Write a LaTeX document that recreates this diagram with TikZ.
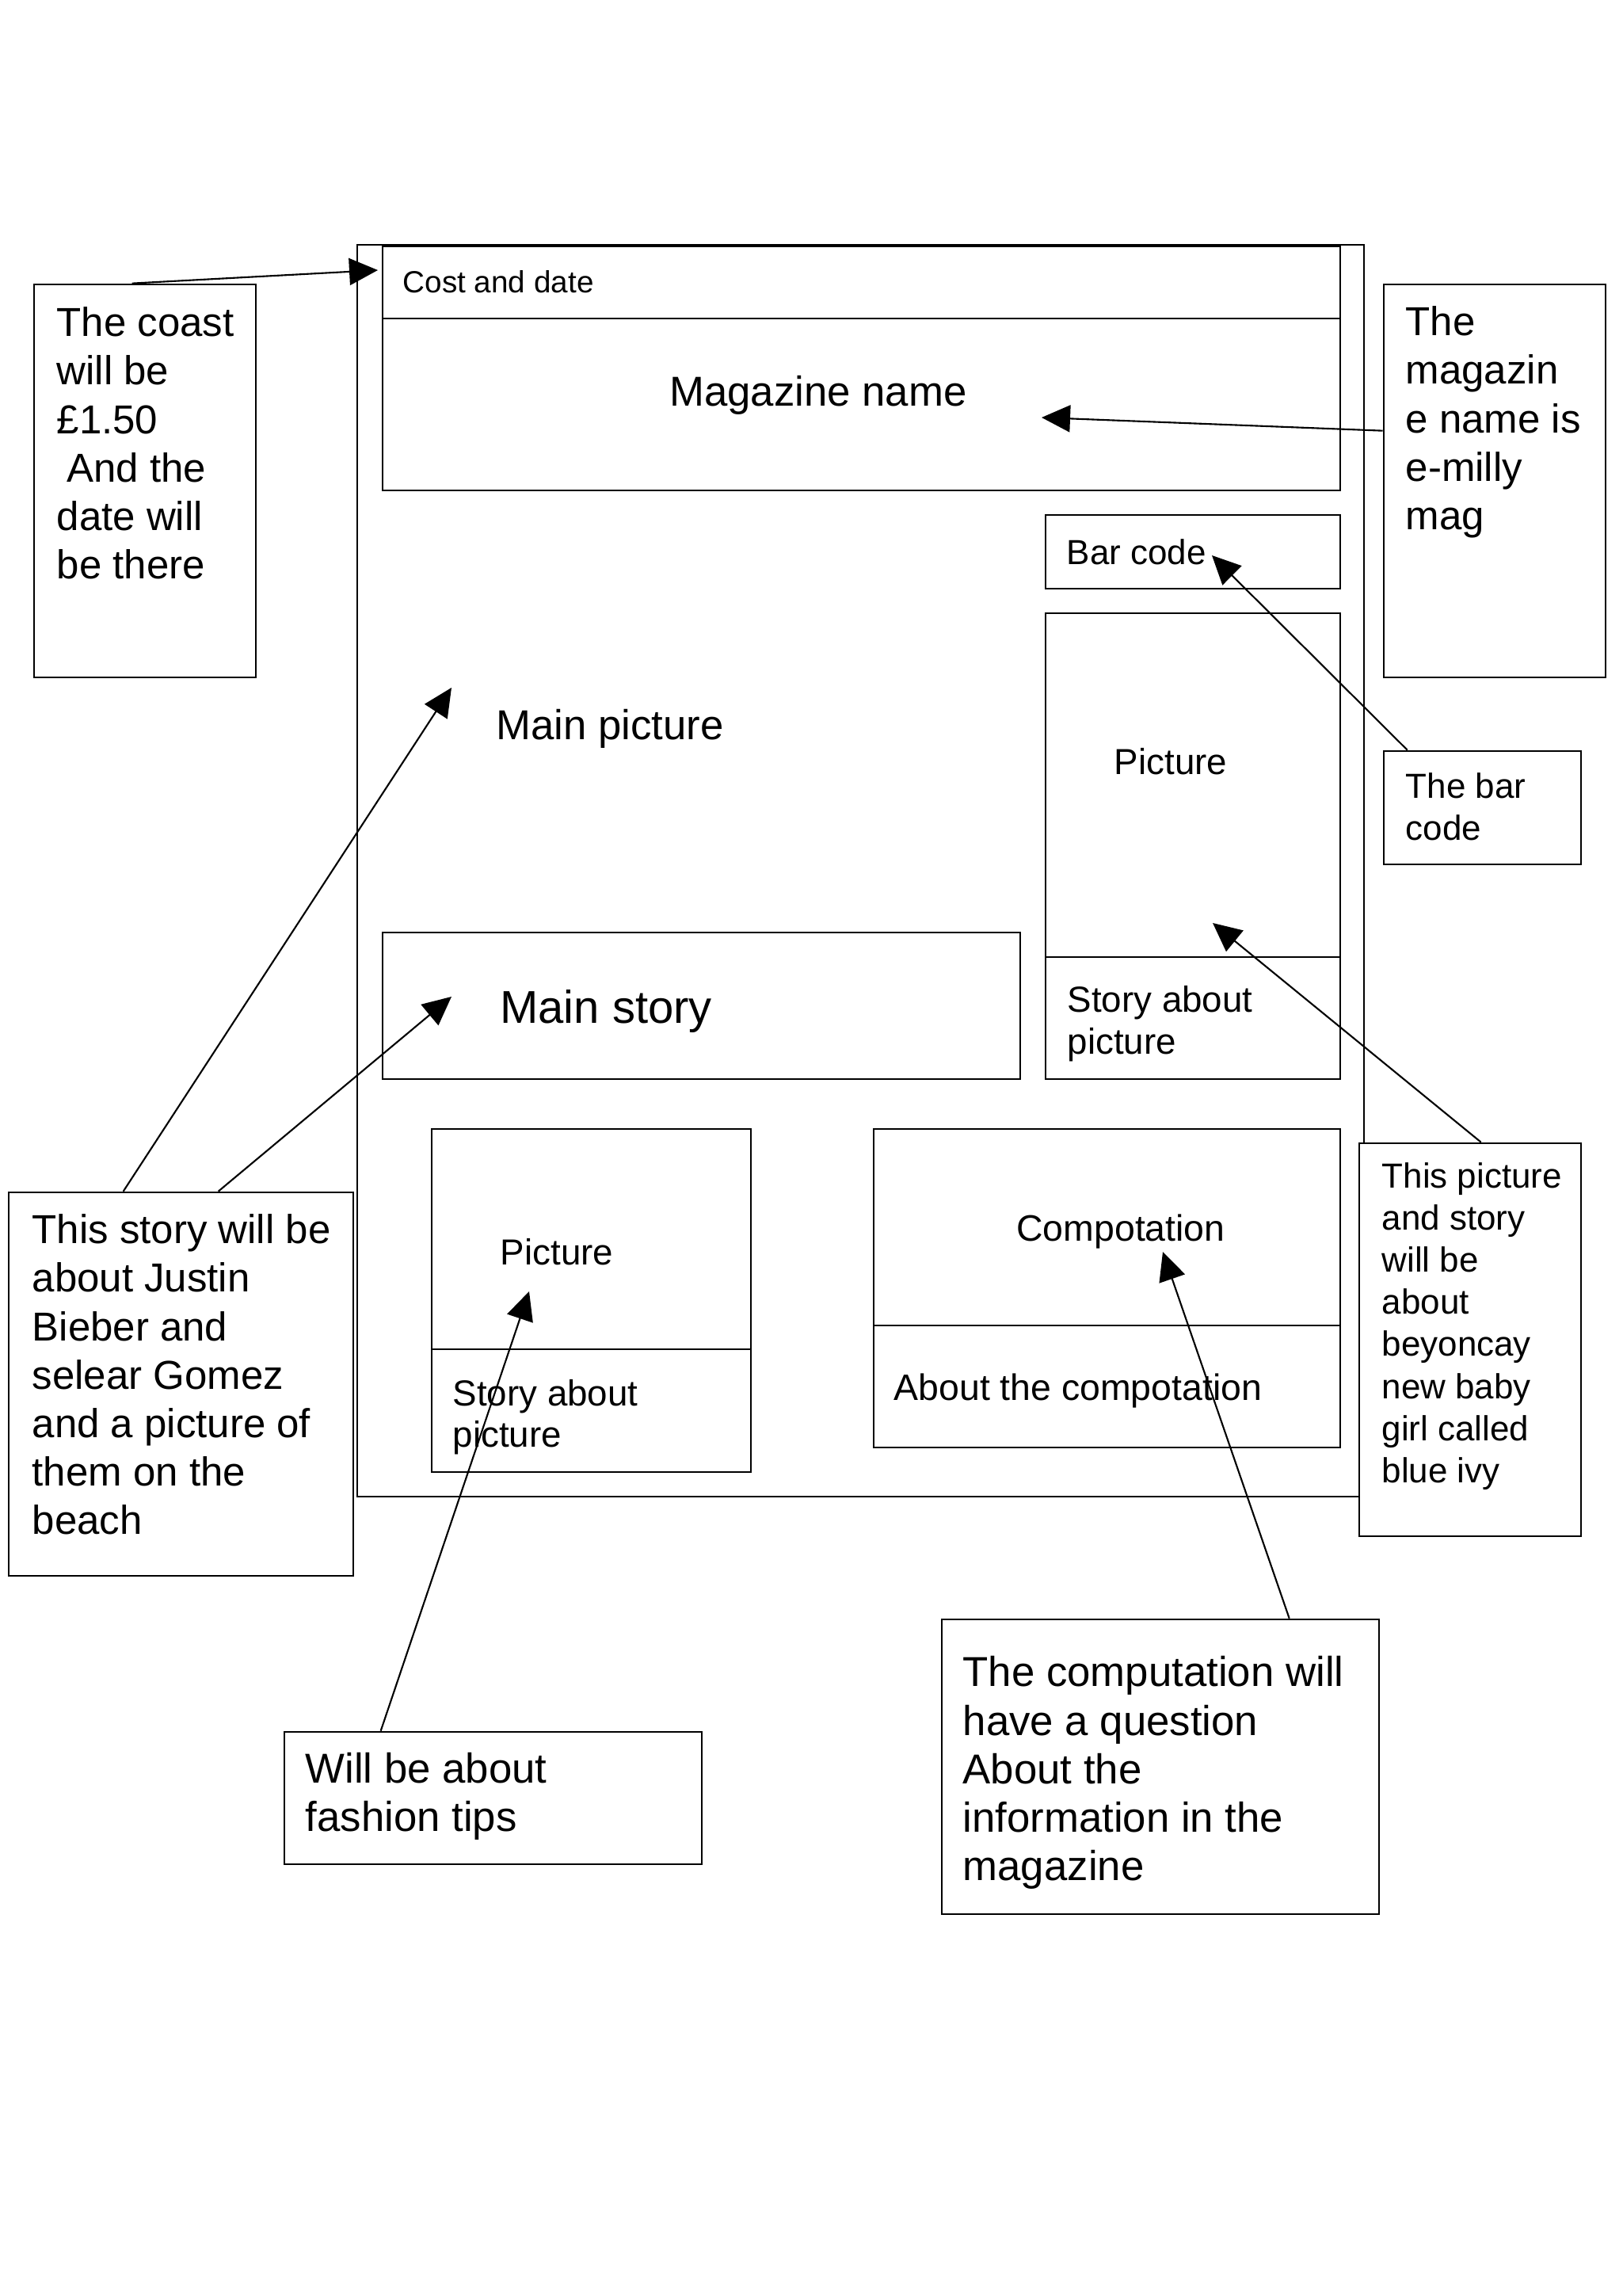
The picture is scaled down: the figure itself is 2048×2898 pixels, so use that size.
\documentclass[tikz,border=0pt]{standalone}
\usepackage{fontspec}
\setmainfont{Liberation Sans}
\usetikzlibrary{arrows.meta, positioning, fit, calc}

\begin{document}
\begin{tikzpicture}[x=0.01cm, y=-0.01cm,
  box/.style={draw, line width=0.75pt, inner sep=0pt, fill=white},
  note/.style={draw, line width=0.75pt, inner sep=0pt, fill=white},
  txt/.style={inner sep=0pt, align=left, anchor=north west},
  lbl/.style={inner sep=0pt, anchor=base},
  arr/.style={-{Triangle[length=3.6mm, width=3.4mm]}, line width=0.6pt},
  big/.style={font=\fontsize{14.5}{17.4}\selectfont},
  mid/.style={font=\fontsize{12.5}{15.1}\selectfont},
  small/.style={font=\fontsize{13}{15}\selectfont},
]
\useasboundingbox (0,0) rectangle (2048,2898);
\fill[white] (0,0) rectangle (2048,2898);

\node[box, fit={(451,309) (1722,1889)}] (frame) {};
\node[box, fit={(483,311) (1692,402)}] (costbox) {};
\node[box, fit={(483,402) (1692,619)}] (namebox) {};
\node[box, fit={(1320,650) (1692,743)}] (barbox) {};
\node[box, fit={(1320,774) (1692,1208)}] (sidepic) {};
\node[box, fit={(1320,1208) (1692,1362)}] (sidestory) {};
\node[box, fit={(483,1177) (1288,1362)}] (mainstory) {};
\node[box, fit={(545,1425) (948,1703)}] (smallpic) {};
\node[box, fit={(545,1703) (948,1858)}] (smallstory) {};
\node[box, fit={(1103,1425) (1692,1673)}] (compbox) {};
\node[box, fit={(1103,1673) (1692,1827)}] (compabout) {};

\node[note, fit={(43,359) (323,855)}] (coastnote) {};
\node[note, fit={(1747,359) (2027,855)}] (magnote) {};
\node[note, fit={(1747,948) (1996,1091)}] (barnote) {};
\node[note, fit={(11,1505) (446,1989)}] (justinnote) {};
\node[note, fit={(1716,1443) (1996,1939)}] (beyoncenote) {};
\node[note, fit={(359,2186) (886,2353)}] (fashionnote) {};
\node[note, fit={(1189,2044) (1741,2416)}] (compnote) {};

\node[lbl, anchor=base west, font=\fontsize{11}{13}\selectfont] (costlbl) at (508,370) {Cost and date};
\node[lbl, font=\fontsize{15}{18}\selectfont] (namelbl) at (1033,513) {Magazine name};
\node[lbl, anchor=base west, mid] (barlbl) at (1346,713) {Bar code};
\node[lbl, small] (sidepiclbl) at (1478,977) {Picture};
\node[txt, font=\fontsize{13}{15.1}\selectfont] (sidestorylbl) at (1347,1244) {Story about\\picture};
\node[lbl, font=\fontsize{15}{18}\selectfont] (mainpiclbl) at (770,933) {Main picture};
\node[lbl, font=\fontsize{16.5}{20}\selectfont] (mainstorylbl) at (765,1291) {Main story};
\node[lbl, small] (smallpiclbl) at (703,1596) {Picture};
\node[txt, font=\fontsize{13}{14.6}\selectfont] (smallstorylbl) at (571,1741) {Story about\\picture};
\node[lbl, font=\fontsize{13.2}{16}\selectfont] (complbl) at (1415,1566) {Compotation};
\node[lbl, anchor=base west, font=\fontsize{13.2}{16}\selectfont] (compaboutlbl) at (1128,1767) {About the compotation};

\node[txt, big] (coasttext) at (71,387) {The coast\\will be\\£1.50\\\hspace*{0.25em}And the\\date will\\be there};
\node[txt, big] (magtext) at (1774,386) {The\\magazin\\e name is\\e-milly\\mag};
\node[txt, mid] (bartext) at (1774,975) {The bar\\code};
\node[txt, big] (justintext) at (40,1532) {This story will be\\about Justin\\Bieber and\\selear Gomez\\and a picture of\\them on the\\beach};
\node[txt, mid] (beyoncetext) at (1744,1467) {This picture\\and story\\will be\\about\\beyoncay\\new baby\\girl called\\blue ivy};
\node[txt, font=\fontsize{15}{17.1}\selectfont] (fashiontext) at (385,2212) {Will be about\\fashion tips};
\node[txt, font=\fontsize{15}{17.4}\selectfont] (comptext) at (1215,2090) {The computation will\\have a question\\About the\\information in the\\magazine};

\coordinate (costtip) at (477,341);
\coordinate (nametip) at (1315,527);
\coordinate (bartip) at (1530,701);
\coordinate (mainpictip) at (570,868);
\coordinate (mainstorytip) at (570,1258);
\coordinate (smallpictip) at (668,1630);
\coordinate (sidepictip) at (1531,1165);
\coordinate (comptip) at (1468,1580);

\draw[arr] ($(coastnote.north west)+(125,0)$) -- (costtip);
\draw[arr] ($(magnote.north west)+(0,186)$) -- (nametip);
\draw[arr] ($(barnote.north west)+(31,0)$) -- (bartip);
\draw[arr] ($(justinnote.north west)+(146,0)$) -- (mainpictip);
\draw[arr] ($(justinnote.north west)+(266,0)$) -- (mainstorytip);
\draw[arr] ($(fashionnote.north west)+(123,0)$) -- (smallpictip);
\draw[arr] ($(beyoncenote.north west)+(155,0)$) -- (sidepictip);
\draw[arr] ($(compnote.north west)+(440,0)$) -- (comptip);
\end{tikzpicture}
\end{document}
